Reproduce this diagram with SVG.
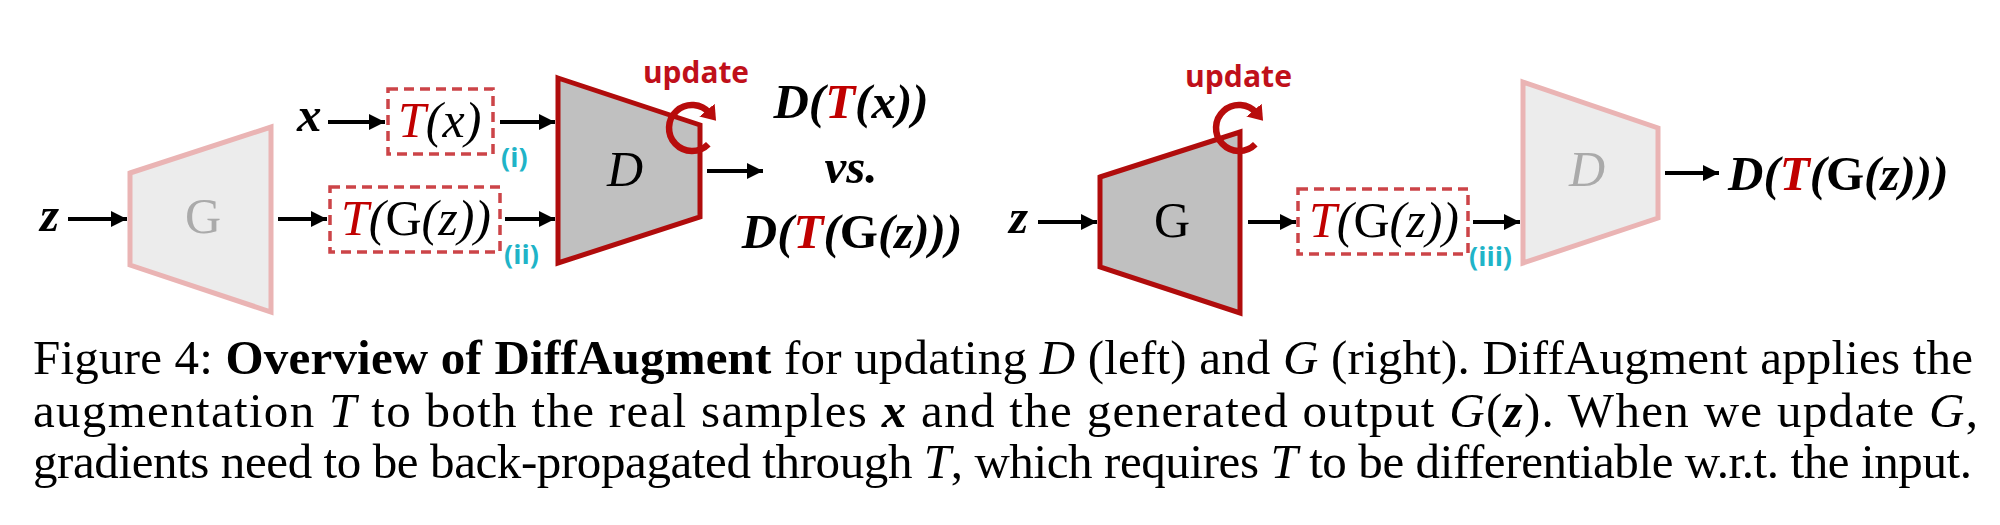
<svg xmlns="http://www.w3.org/2000/svg" width="2000" height="525" viewBox="0 0 2000 525">
<style>
.math{font-family:"Liberation Serif","Times New Roman",serif;font-style:italic;font-size:50px;fill:#000}
.mb{font-family:"Liberation Serif","Times New Roman",serif;font-style:italic;font-weight:bold;font-size:49px;fill:#000}
.up{font-style:normal}
.red{fill:#c00000}
.upd{font-family:"Open Sans","Liberation Sans",sans-serif;font-weight:bold;font-size:30px;fill:#c0101a}
.lab{font-family:"Open Sans","Liberation Sans",sans-serif;font-weight:bold;font-size:27px;fill:#1fb4c8}
.cap{font-family:"Liberation Serif","Times New Roman",serif;font-size:49px;fill:#000}
.it{font-style:italic}
.bd{font-weight:bold}
.dark{fill:#c0c0c0;stroke:#b00c0c;stroke-width:5;stroke-linejoin:miter}
.light{fill:#ececec;stroke:#eab4b4;stroke-width:5}
.box{fill:none;stroke:#cc4448;stroke-width:3.5;stroke-dasharray:10 6}
.arr{stroke:#000;stroke-width:4;fill:none;marker-end:url(#ah)}
.rot{stroke:#b80c0c;stroke-width:6.5;fill:none;marker-end:url(#rh)}
.gray{fill:#aaaaaa}
</style>
<defs>
<marker id="ah" markerUnits="userSpaceOnUse" markerWidth="18" markerHeight="18" refX="16" refY="8" orient="auto">
<path d="M0,0 L16,8 L0,16 z" fill="#000"/>
</marker>
<marker id="rh" markerUnits="userSpaceOnUse" markerWidth="20" markerHeight="22" refX="4" refY="10" orient="auto">
<path d="M0,0 L14,10 L0,20 z" fill="#b80c0c"/>
</marker>
</defs>
<rect width="2000" height="525" fill="#fff"/>

<!-- Left diagram: updating D -->
<g id="z-left"><text class="mb" x="40" y="231">z</text></g>
<g id="x-left"><text class="mb" x="297" y="131">x</text></g>
<g id="G-left">
<polygon class="light" points="130,173 271,127 271,312 130,265"/>
<text class="math up gray" x="203" y="233" text-anchor="middle">G</text>
</g>
<g id="Tx-left">
<rect class="box" x="388" y="89" width="105" height="65"/>
<text class="math" x="398" y="137"><tspan class="red">T</tspan>(x)</text>
</g>
<g id="TGz-left">
<rect class="box" x="330" y="187" width="170" height="65"/>
<text class="math" x="341" y="235"><tspan class="red">T</tspan>(<tspan class="up">G</tspan>(z))</text>
</g>
<g id="label-i"><text class="lab" x="501" y="167">(i)</text></g>
<g id="label-ii"><text class="lab" x="504" y="264">(ii)</text></g>
<g id="D-left">
<polygon class="dark" points="558,78 700,125 700,217 558,263"/>
<text class="math" x="625" y="186" text-anchor="middle">D</text>
</g>
<g id="update-left">
<text class="upd" x="643" y="83" textLength="106" lengthAdjust="spacingAndGlyphs">update</text>
<path class="rot" d="M708.3,144.3 A23,23 0 1 1 709.6,113.2"/>
</g>
<g id="out-left">
<text class="mb" x="851" y="118" text-anchor="middle">D(<tspan class="red">T</tspan>(x))</text>
<text class="mb" x="851" y="183" text-anchor="middle">vs.</text>
<text class="mb" x="852" y="248" text-anchor="middle">D(<tspan class="red">T</tspan>(<tspan class="up">G</tspan>(z)))</text>
</g>

<!-- Right diagram: updating G -->
<g id="z-right"><text class="mb" x="1009" y="233">z</text></g>
<g id="G-right">
<polygon class="dark" points="1100,177 1240,132 1240,313 1100,267"/>
<text class="math up" x="1172" y="237" text-anchor="middle">G</text>
</g>
<g id="update-right">
<text class="upd" x="1185" y="87" textLength="107" lengthAdjust="spacingAndGlyphs">update</text>
<path class="rot" d="M1255.3,144.3 A23,23 0 1 1 1256.6,113.2"/>
</g>
<g id="TGz-right">
<rect class="box" x="1298" y="189" width="170" height="65"/>
<text class="math" x="1309" y="237"><tspan class="red">T</tspan>(<tspan class="up">G</tspan>(z))</text>
</g>
<g id="label-iii"><text class="lab" x="1469" y="266">(iii)</text></g>
<g id="D-right">
<polygon class="light" points="1523,82 1658,128 1658,218 1523,263"/>
<text class="math gray" x="1587" y="186" text-anchor="middle">D</text>
</g>
<g id="out-right">
<text class="mb" x="1728" y="190">D(<tspan class="red">T</tspan>(<tspan class="up">G</tspan>(z)))</text>
</g>

<g id="connectors">
<line class="arr" x1="68" y1="219" x2="127" y2="219"/>
<line class="arr" x1="328" y1="122" x2="385" y2="122"/>
<line class="arr" x1="278" y1="219" x2="327" y2="219"/>
<line class="arr" x1="500" y1="122" x2="555" y2="122"/>
<line class="arr" x1="505" y1="219" x2="555" y2="219"/>
<line class="arr" x1="707" y1="171" x2="763" y2="171"/>
<line class="arr" x1="1038" y1="222" x2="1097" y2="222"/>
<line class="arr" x1="1248" y1="222" x2="1296" y2="222"/>
<line class="arr" x1="1473" y1="222" x2="1520" y2="222"/>
<line class="arr" x1="1665" y1="173" x2="1719" y2="173"/>
</g>

<!-- Caption -->
<g id="caption">
<text class="cap" x="33" y="374" textLength="1940" lengthAdjust="spacing"><tspan>Figure 4: </tspan><tspan class="bd">Overview of DiffAugment</tspan><tspan> for updating </tspan><tspan class="it">D</tspan><tspan> (left) and </tspan><tspan class="it">G</tspan><tspan> (right). DiffAugment applies the</tspan></text>
<text class="cap" x="33" y="427" textLength="1945" lengthAdjust="spacing"><tspan>augmentation </tspan><tspan class="it">T</tspan><tspan> to both the real samples </tspan><tspan class="it bd">x</tspan><tspan> and the generated output </tspan><tspan class="it">G</tspan><tspan>(</tspan><tspan class="it bd">z</tspan><tspan>).  When we update </tspan><tspan class="it">G</tspan><tspan>,</tspan></text>
<text class="cap" x="33" y="478" textLength="1939" lengthAdjust="spacing"><tspan>gradients need to be back-propagated through </tspan><tspan class="it">T</tspan><tspan>, which requires </tspan><tspan class="it">T</tspan><tspan> to be differentiable w.r.t. the input.</tspan></text>
</g>
</svg>
